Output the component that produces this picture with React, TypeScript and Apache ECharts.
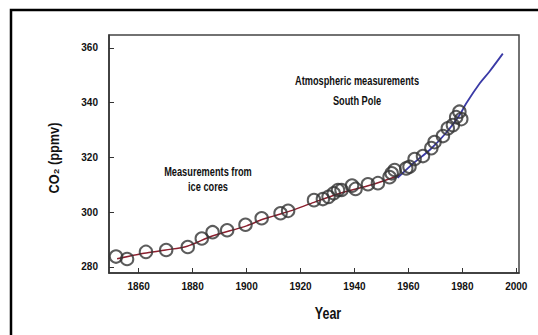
import React, { useEffect, useRef } from "react";
import * as echarts from "echarts";

// Ice core measurements (circles)
const iceYears = [1851.6, 1855.7, 1862.7, 1870.2, 1878.2, 1883.4, 1887.4, 1892.8, 1899.6, 1905.6, 1912.6, 1915.4, 1925.0, 1928.3, 1930.4, 1932.3, 1933.9, 1935.2, 1939.1, 1940.4, 1945.0, 1948.7, 1953.0, 1953.8, 1954.9];
const icePpm = [283.8, 282.9, 285.5, 286.2, 287.3, 290.4, 292.7, 293.4, 295.4, 297.8, 299.6, 300.5, 304.4, 304.8, 305.6, 306.9, 308.1, 308.1, 309.7, 308.5, 310.2, 310.6, 312.8, 314.2, 315.4];
// Later circles (overlapping the atmospheric record)
const lateYears = [1959.2, 1960.4, 1962.3, 1965.4, 1968.5, 1969.7, 1972.8, 1974.6, 1976.5, 1977.7, 1979.6, 1978.9];
const latePpm = [316.0, 316.6, 319.4, 320.5, 323.4, 325.6, 327.8, 330.6, 331.8, 334.7, 334.0, 336.7];
// Fitted line through ice cores (red)
const iceLineYears = [1852, 1862, 1870, 1878, 1887, 1900, 1906, 1916, 1925, 1935, 1946, 1957];
const iceLinePpm = [283.0, 285.0, 286.2, 287.6, 291.2, 295.0, 297.4, 300.4, 303.6, 307.0, 309.9, 313.6];
// Atmospheric measurements, South Pole (blue)
const atmYears = [1956, 1962, 1968, 1974, 1979, 1981.4, 1986.4, 1990, 1995];
const atmPpm = [312.5, 318.0, 322.8, 329.0, 335.5, 339.7, 347.0, 351.3, 357.9];

const yTicks = [280, 300, 320, 340, 360];
const xTicks = [1860, 1880, 1900, 1920, 1940, 1960, 1980, 2000];

const FONT = '"Liberation Sans", Arial, sans-serif';

const zip = (a: number[], b: number[]) => a.map((v, i) => [v, b[i]]);

const label = (text: string, x: number, y: number, size: number, sx: number) => ({
  type: "text",
  x,
  y,
  scaleX: sx,
  style: {
    text,
    font: `bold ${size}px ${FONT}`,
    fill: "#111",
    align: "center",
    verticalAlign: "middle",
  },
});

export default function App() {
  const ref = useRef<HTMLDivElement>(null);
  useEffect(() => {
    if (!ref.current) return;
    const chart = echarts.init(ref.current, undefined, { renderer: "svg" });
    const circleStyle = {
      color: "rgba(0,0,0,0)",
      borderColor: "#333",
      borderWidth: 2,
    };
    chart.setOption({
      animation: false,
      backgroundColor: "#ffffff",
      textStyle: { fontFamily: FONT },
      grid: {
        left: 109,
        top: 35,
        right: 19,
        bottom: 62,
        show: true,
        borderColor: "#444",
        borderWidth: 1.5,
        backgroundColor: "transparent",
      },
      xAxis: {
        type: "value",
        min: 1849,
        max: 2001,
        splitLine: { show: false },
        axisLine: { lineStyle: { color: "#333", width: 1.5 } },
        axisTick: { inside: true, length: 5, customValues: xTicks, lineStyle: { color: "#333" } },
        axisLabel: {
          customValues: xTicks,
          formatter: (v: number) => String(v),
          margin: 8,
          color: "#111",
          fontSize: 10,
          fontWeight: "bold",
          fontFamily: FONT,
        },
      },
      yAxis: {
        type: "value",
        min: 277.8,
        max: 364.7,
        splitLine: { show: false },
        axisLine: { lineStyle: { color: "#333", width: 1.5 } },
        axisTick: { inside: true, length: 5, customValues: yTicks, lineStyle: { color: "#333" } },
        axisLabel: {
          customValues: yTicks,
          formatter: (v: number) => String(v),
          margin: 11,
          color: "#111",
          fontSize: 10,
          fontWeight: "bold",
          fontFamily: FONT,
        },
      },
      graphic: [
        {
          type: "rect",
          shape: { x: 11, y: 10, width: 700, height: 500 },
          style: { fill: "none", stroke: "#000", lineWidth: 2.5 },
          silent: true,
        },
        {
          type: "text",
          x: 54,
          y: 158,
          rotation: Math.PI / 2,
          scaleX: 0.85,
          style: {
            text: "CO₂ (ppmv)",
            font: `bold 15px ${FONT}`,
            fill: "#111",
            align: "center",
            verticalAlign: "middle",
          },
        },
        label("Year", 328, 313, 16, 0.78),
        label("Atmospheric measurements", 357, 80, 13, 0.71),
        label("South Pole", 357, 100, 13, 0.71),
        label("Measurements from", 208, 171, 13, 0.71),
        label("ice cores", 208, 186, 13, 0.71),
      ],
      series: [
        {
          type: "line",
          data: zip(iceLineYears, iceLinePpm),
          smooth: 0.3,
          showSymbol: false,
          lineStyle: { color: "#8b1f2e", width: 1.5 },
          z: 3,
        },
        {
          type: "line",
          data: zip(atmYears, atmPpm),
          smooth: 0.3,
          showSymbol: false,
          lineStyle: { color: "#3a3aa6", width: 1.8 },
          z: 3,
        },
        {
          type: "scatter",
          data: zip(iceYears, icePpm),
          symbol: "circle",
          symbolSize: 12.5,
          itemStyle: circleStyle,
          z: 4,
        },
        {
          type: "scatter",
          data: zip(lateYears, latePpm),
          symbol: "circle",
          symbolSize: 12.5,
          itemStyle: circleStyle,
          z: 4,
        },
      ],
    });
    return () => chart.dispose();
  }, []);
  return (
    <div
      ref={ref}
      style={{ position: "fixed", left: 0, top: 0, width: 538, height: 335, background: "#fff" }}
    />
  );
}
